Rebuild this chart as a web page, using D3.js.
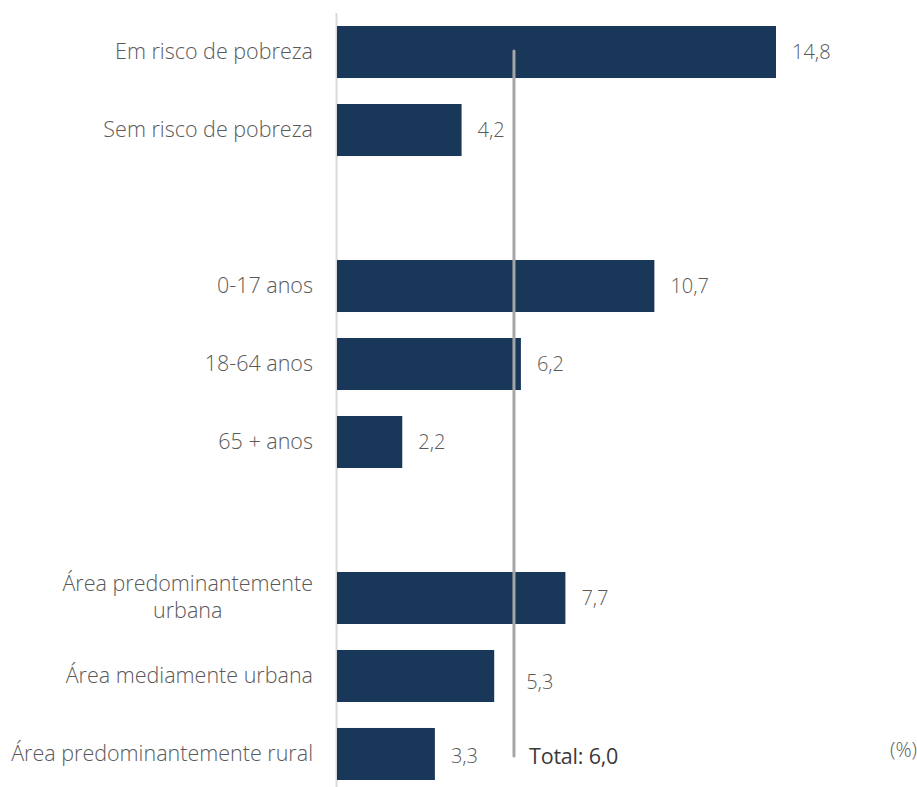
<!DOCTYPE html>
<html><head><meta charset="utf-8">
<script src="https://cdn.jsdelivr.net/npm/d3@7"></script>
<style>body{margin:0;background:#fff}svg{display:block}</style>
</head><body>
<svg id="c" width="917" height="787"></svg>
<script>
const categories = ["Em risco de pobreza","Sem risco de pobreza","gap1","0-17 anos","18-64 anos","65 + anos","gap2","Área predominantemente urbana","Área mediamente urbana","Área predominantemente rural"];
const values = [14.8, 4.2, null, 10.7, 6.2, 2.2, null, 7.7, 5.3, 3.3];
const labelLines = {"Área predominantemente urbana":["Área predominantemente","urbana"]};
const totalValue = 6.0;
const totalLabel = "Total: 6,0";
const unitLabel = "(%)";

const svg = d3.select("#c");
const x = d3.scaleLinear().domain([0, 14.8]).range([337, 776]);
const y = d3.scaleBand().domain(categories).range([13, 793]).paddingInner(0.333).paddingOuter(0.1667);
const fmt = v => d3.format(".1f")(v).replace(".", ",");
const font = "'Open Sans', sans-serif";
const labelShift = {"Área mediamente urbana":[16,6], "Área predominantemente rural":[0,2]};

// axis line
svg.append("line").attr("x1", x(0)-0.5).attr("x2", x(0)-0.5).attr("y1", 13).attr("y2", 787)
  .attr("stroke", "#d9d9d9").attr("stroke-width", 2);

const data = categories.map((c,i)=>({c, v:values[i]})).filter(d=>d.v!==null);

svg.selectAll("rect.bar").data(data).enter().append("rect")
  .attr("x", x(0)).attr("y", d=>y(d.c)).attr("width", d=>x(d.v)-x(0)).attr("height", y.bandwidth())
  .attr("fill", "#183759");

svg.selectAll("text.val").data(data).enter().append("text")
  .attr("x", d=>x(d.v)+16+((labelShift[d.c]||[0,0])[0]))
  .attr("y", d=>y(d.c)+y.bandwidth()/2+7+((labelShift[d.c]||[0,0])[1]))
  .attr("font-family", font).attr("font-weight", 300).attr("font-size", 20).attr("fill", "#595959")
  .text(d=>fmt(d.v));

const cat = svg.selectAll("text.cat").data(data).enter().append("text")
  .attr("font-family", font).attr("font-weight", 300).attr("font-size", 21.5).attr("fill", "#595959");
cat.each(function(d){
  const lines = labelLines[d.c] || [d.c];
  const t = d3.select(this);
  const cy = y(d.c)+y.bandwidth()/2;
  const lh = 27;
  lines.forEach((l,k)=>{
    t.append("tspan").attr("x", 313).attr("text-anchor", lines.length>1?"middle":"end")
     .attr("y", cy + 7 + (k - (lines.length-1)/2)*lh).text(l);
  });
});
cat.each(function(d){
  const lines = labelLines[d.c];
  if(!lines) return;
  const tspans = d3.select(this).selectAll("tspan").nodes();
  const w = Math.max(...tspans.map(n=>n.getComputedTextLength()));
  tspans.forEach(n=>{ d3.select(n).attr("x", 313 - w/2); });
});

// total line
svg.append("line").attr("x1", x(totalValue)-1).attr("x2", x(totalValue)-1).attr("y1", 51).attr("y2", 756)
  .attr("stroke", "#a6a6a6").attr("stroke-width", 3).attr("stroke-linecap", "round");
svg.append("text").attr("x", 529).attr("y", 764)
  .attr("font-family", font).attr("font-weight", 400).attr("font-size", 21.5).attr("fill", "#3a3a3a")
  .attr("letter-spacing", -0.2)
  .text(totalLabel);
svg.append("text").attr("x", 917).attr("y", 757).attr("text-anchor", "end")
  .attr("font-family", font).attr("font-weight", 300).attr("font-size", 20).attr("fill", "#595959")
  .text(unitLabel);
</script>
</body></html>
